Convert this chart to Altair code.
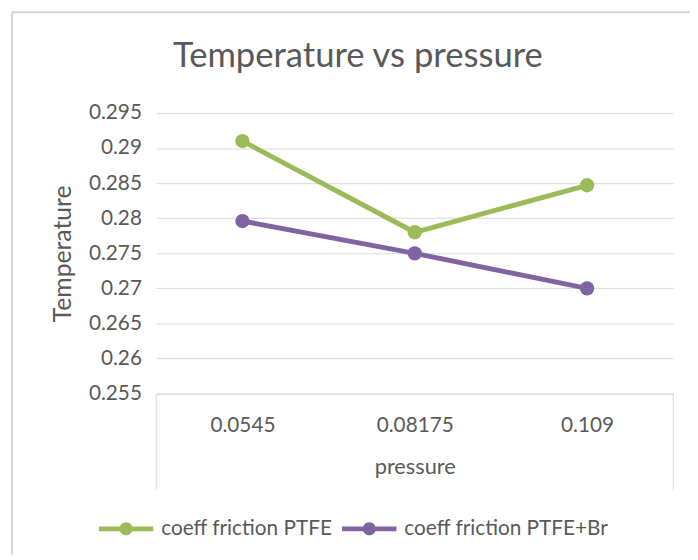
import altair as alt
import pandas as pd

chart_title = "Temperature vs pressure"
pressure = ["0.0545", "0.08175", "0.109"]
series_names = ["coeff friction PTFE", "coeff friction PTFE+Br"]
ptfe = [0.291, 0.278, 0.2847]
ptfe_br = [0.2796, 0.275, 0.270]
y_ticks = [0.255, 0.26, 0.265, 0.27, 0.275, 0.28, 0.285, 0.29, 0.295]
colors = ["#9BBB59", "#8064A2"]

rows = []
for p, v in zip(pressure, ptfe):
    rows.append({"pressure": p, "value": v, "series": series_names[0]})
for p, v in zip(pressure, ptfe_br):
    rows.append({"pressure": p, "value": v, "series": series_names[1]})
df = pd.DataFrame(rows)

FONT = "Lato"
TXT = "#595959"
GRID = "#d9d9d9"

W, H = 523, 284

legend_path = ("M-1,-0.09H1V0.09H-1Z "
               "M0.24,0A0.24,0.24,0,1,1,-0.24,0A0.24,0.24,0,1,1,0.24,0Z")

x_enc = alt.X("pressure:N", sort=pressure, title="pressure",
              scale=alt.Scale(type="point", padding=0.5),
              axis=alt.Axis(labelAngle=0, labelFontSize=21, labelColor=TXT,
                            labelFont=FONT, labelPadding=21, ticks=False,
                            domain=True, domainColor=GRID, domainWidth=1,
                            titleFontSize=22, titleColor=TXT, titleFont=FONT,
                            titleFontWeight="normal", titlePadding=22))
y_enc = alt.Y("value:Q", title="Temperature",
              scale=alt.Scale(domain=[0.255, 0.295], nice=False, zero=False),
              axis=alt.Axis(values=y_ticks,
                            labelExpr="format(datum.value, '.3~f')",
                            labelFontSize=21, labelColor=TXT, labelFont=FONT,
                            labelPadding=15, ticks=False, domain=False,
                            grid=True, gridColor=GRID, gridWidth=1,
                            titleFontSize=25, titleColor=TXT, titleFont=FONT,
                            titleFontWeight="normal", titleX=-95, titleY=H / 2,
                            titleAngle=-90, titleBaseline="middle",
                            titleAlign="center"))
color_enc = alt.Color("series:N", sort=series_names,
                      scale=alt.Scale(domain=series_names, range=colors),
                      legend=alt.Legend(title=None, orient="none",
                                        direction="horizontal",
                                        legendX=-58, legendY=393,
                                        symbolType=legend_path,
                                        symbolSize=3025, symbolStrokeWidth=0,
                                        labelFontSize=21, labelColor=TXT,
                                        labelFont=FONT, columnPadding=9,
                                        labelOffset=8, labelLimit=0))

base = alt.Chart(df)
lines = base.mark_line(strokeWidth=5).encode(x=x_enc, y=y_enc, color=color_enc)
points = base.mark_circle(size=210, opacity=1).encode(x=x_enc, y=y_enc,
                                                       color=color_enc)

frame_df = pd.DataFrame({"k": [0]})
box_left = alt.Chart(frame_df).mark_rule(color=GRID, strokeWidth=1).encode(
    x=alt.value(0), y=alt.value(H), y2=alt.value(H + 97))
box_right = alt.Chart(frame_df).mark_rule(color=GRID, strokeWidth=1).encode(
    x=alt.value(W), y=alt.value(H), y2=alt.value(H + 97))
outer_top = alt.Chart(frame_df).mark_rule(color="#d6d6d6", strokeWidth=2).encode(
    x=alt.value(-146), x2=alt.value(W + 40), y=alt.value(-102))
outer_left = alt.Chart(frame_df).mark_rule(color="#d6d6d6", strokeWidth=2).encode(
    x=alt.value(-146), y=alt.value(-102), y2=alt.value(H + 200))
title_text = alt.Chart(frame_df).mark_text(
    fontSize=35, font=FONT, color=TXT, align="center", baseline="alphabetic"
).encode(text=alt.value(chart_title), x=alt.value(204), y=alt.value(-47))

chart = alt.layer(box_left, box_right, outer_top, outer_left, title_text,
                  lines, points).properties(
    width=W, height=H,
    autosize=alt.AutoSizeParams(type="none"),
    padding={"left": 150, "top": 103, "right": 17, "bottom": 160},
).configure_view(stroke=None)

chart.save("out.html", embed_options={"renderer": "svg", "actions": False})
